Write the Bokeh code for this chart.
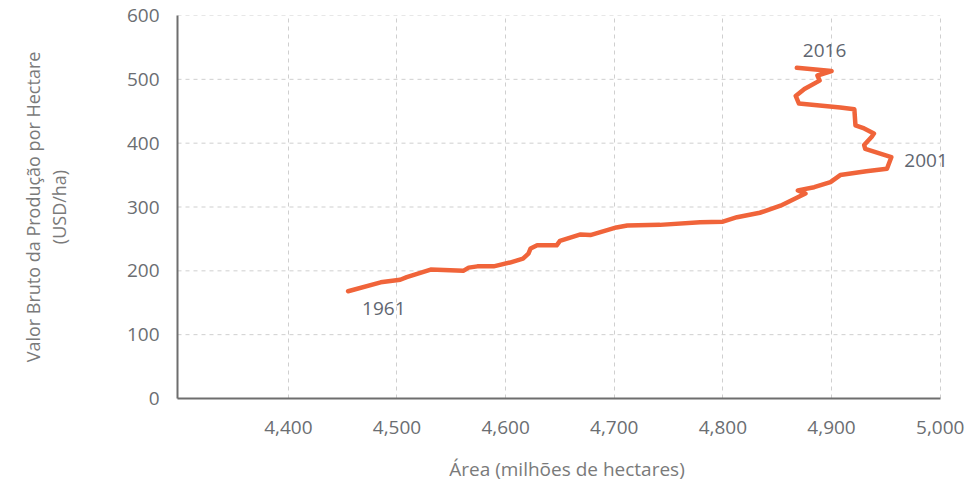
from bokeh.plotting import figure
from bokeh.models import Range1d, FixedTicker, NumeralTickFormatter, Label
from bokeh.embed import file_html
from bokeh.resources import INLINE

# Area (million ha) and gross production value per hectare (USD/ha), 1961 -> 2016
area = [4455, 4485, 4503, 4509, 4531, 4561, 4566, 4574, 4589, 4604,
        4616, 4621, 4623, 4629, 4647, 4650, 4669, 4678, 4702, 4712,
        4742, 4779, 4800, 4813, 4834, 4853, 4876, 4869, 4884, 4899,
        4908, 4932, 4951, 4955, 4931, 4930, 4937, 4939, 4930, 4922,
        4921, 4908, 4870, 4867, 4875, 4889, 4887, 4900, 4868]
value = [168, 182, 186, 190, 202, 200, 205, 207, 207, 213,
         219, 227, 235, 240, 240, 247, 257, 256, 268, 271,
         272, 276, 277, 284, 291, 302, 321, 326, 331, 339,
         350, 356, 360, 378, 391, 397, 410, 415, 423, 428,
         453, 456, 462, 474, 485, 498, 506, 513, 518]

x_ticks = [4400, 4500, 4600, 4700, 4800, 4900, 5000]
y_ticks = [0, 100, 200, 300, 400, 500, 600]
x_axis_start, x_axis_end = 4298, 5000

label_years = ["1961", "2001", "2016"]
label_index = [0, 33, len(area) - 1]
label_offsets = [(14, -17), (13, -3), (6, 17)]

FONT = "Open Sans"
LINE_COLOR = "#F0643A"
GRID_COLOR = "#cfcfcf"

# the frame reaches a little past the axis end so that the "2001" label is not clipped
p = figure(frame_width=779, frame_height=383, output_backend="svg", toolbar_location=None,
           x_range=Range1d(x_axis_start, 5015), y_range=Range1d(0, 600),
           min_border_left=177, min_border_right=13, min_border_top=15,
           min_border_bottom=0)
p.outline_line_color = None
p.background_fill_color = "white"
p.border_fill_color = "white"

# horizontal dashed grid lines, stopping at the end of the x axis
p.ygrid.visible = False
p.segment(x0=[x_axis_start] * len(y_ticks), y0=y_ticks,
          x1=[x_axis_end] * len(y_ticks), y1=y_ticks,
          line_color=GRID_COLOR, line_dash="4 4", line_width=1, level="underlay")

p.xgrid.ticker = FixedTicker(ticks=x_ticks)
p.xgrid.grid_line_color = GRID_COLOR
p.xgrid.grid_line_dash = "4 4"
p.xgrid.grid_line_width = 1

p.line(area, value, line_color=LINE_COLOR, line_width=4.5,
       line_join="round", line_cap="round")

for yr, idx, (dx, dy) in zip(label_years, label_index, label_offsets):
    p.add_layout(Label(x=area[idx], y=value[idx], text=yr, x_offset=dx, y_offset=dy,
                       text_baseline="middle", text_align="left",
                       text_font=FONT, text_font_size="19px", text_color="#5f6670"))

p.xaxis.ticker = FixedTicker(ticks=x_ticks)
p.yaxis.ticker = FixedTicker(ticks=y_ticks)
p.xaxis.formatter = NumeralTickFormatter(format="0,0")
p.yaxis.formatter = NumeralTickFormatter(format="0")
p.xaxis.bounds = (x_axis_start, x_axis_end)

for ax in (p.xaxis, p.yaxis):
    ax.axis_line_color = "#6e6e6e"
    ax.axis_line_width = 2
    ax.major_tick_line_color = None
    ax.minor_tick_line_color = None
    ax.major_tick_out = 0
    ax.major_tick_in = 0
    ax.major_label_text_font = FONT
    ax.major_label_text_font_size = "19px"
    ax.major_label_text_color = "#6b6e72"
    ax.axis_label_text_font = FONT
    ax.axis_label_text_font_size = "19px"
    ax.axis_label_text_color = "#7a7a7a"
    ax.axis_label_text_font_style = "normal"

p.xaxis.axis_label = "Área (milhões de hectares)"
p.xaxis.major_label_standoff = 22
p.xaxis.axis_label_standoff = 19
p.yaxis.axis_label = "Valor Bruto da Produção por Hectare\n(USD/ha)"
p.yaxis.axis_label_text_font_size = "18px"
p.yaxis.axis_label_text_line_height = 1.1
p.yaxis.major_label_standoff = 18
p.yaxis.axis_label_standoff = 53

open("out.html", "w").write(file_html(p, INLINE))
